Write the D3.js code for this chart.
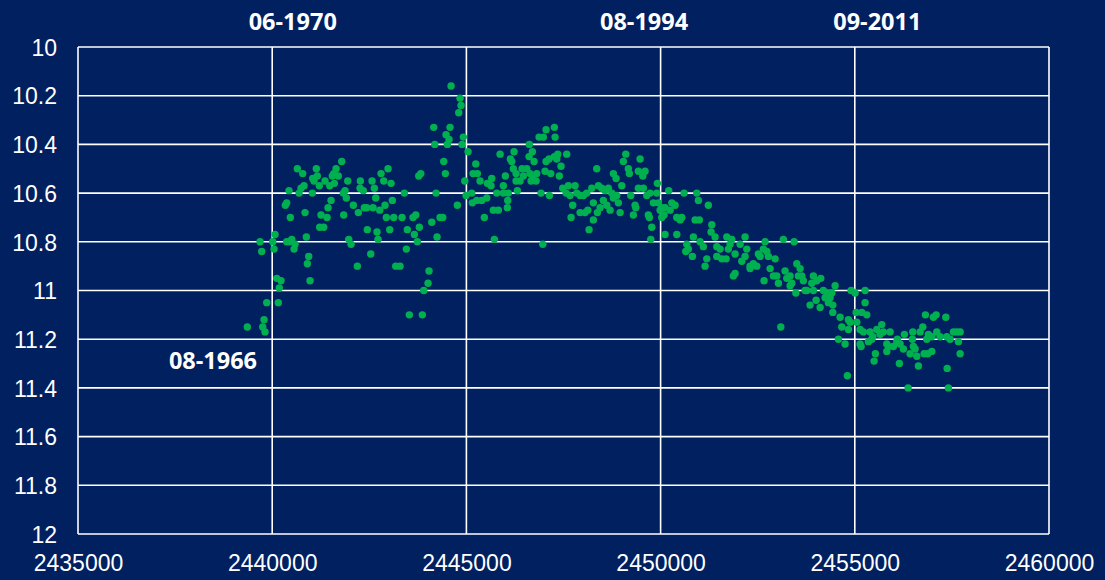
<!DOCTYPE html>
<html>
<head>
<meta charset="utf-8">
<script src="https://cdn.jsdelivr.net/npm/d3@7/dist/d3.min.js"></script>
<style>
  html, body { margin: 0; padding: 0; background: #002060; }
  svg { display: block; }
</style>
</head>
<body>
<svg id="chart" width="1105" height="580"></svg>
<script>
// ---- Data (Julian Date vs magnitude) ----
const jd = [
2439359,2439756,2439815,2439790,2439859,2440158,2440117,2440227,2440183,2439687,
2439730,2440014,2440047,2440073,2440374,2440503,2440588,2440562,2440441,2440940,
2440905,2440974,2440879,2440374,2440338,2440467,2440845,2440433,2440691,2440742,
2440820,2441033,2440647,2440786,2441136,2441644,2441790,2441043,2441162,2441077,
2441213,2441360,2441481,2441548,2441600,2441703,2441584,2441945,2441831,2441875,
2441909,2442270,2442262,2442346,2442571,2442630,2442802,2442983,2442872,2443060,
2443773,2443825,2443402,2444219,2441515,2441438,2441257,2441412,2441841,2442089,
2442218,2442372,2442434,2442596,2442666,2442769,2442905,2443093,2442939,2443129,
2443343,2443626,2443696,2444322,2444391,2444108,2441223,2441327,2442449,2442699,
2442725,2443026,2443479,2443660,2443788,2443737,2444244,2441971,2442030,2442537,
2443454,2442192,2443181,2443292,2444038,2444013,2443902,2443531,2443866,2444605,
2444837,2444862,2444803,2444159,2444579,2444476,2444553,2444509,2444185,2444921,
2444888,2445043,2444417,2444458,2445241,2445171,2445283,2444958,2444991,2445138,
2445153,2444767,2445352,2445267,2445395,2445524,2445462,2445720,2445539,2445652,
2445635,2445867,2446227,2446132,2446168,2446209,2446003,2445952,2445781,2445952,
2446080,2446065,2446054,2445694,2445822,2446279,2446279,2446382,2446312,2446433,
2446554,2446466,2446621,2446698,2446613,2446742,2446639,2446708,2446811,2446794,
2446665,2446871,2446982,2447051,2447265,2447283,2446922,2446966,2447051,2447128,
2447265,2447352,2447326,2447437,2447393,2447025,2447172,2447137,2447583,2447481,
2447625,2447798,2447566,2447669,2447738,2447695,2447842,2447927,2448012,2448099,
2448228,2447927,2448055,2448125,2448269,2448158,2448372,2448356,2448398,2448485,
2448570,2448655,2448743,2448784,2448871,2449000,2448913,2448957,2448699,2448526,
2448614,2448442,2448269,2448784,2448854,2449103,2449041,2449170,2449196,2449428,
2449472,2449600,2449541,2449232,2449343,2449299,2449361,2449428,2449557,2449644,
2449729,2449685,2449711,2449773,2449747,2449917,2449901,2449814,2449943,2450030,
2450089,2450030,2450115,2450210,2450288,2450373,2450244,2450417,2450502,2450545,
2450417,2450604,2450931,2450973,2450844,2450888,2450998,2450674,2450648,2450818,
2451017,2451101,2451189,2451145,2451230,2450115,2449987,2451318,2451300,2451403,
2451704,2451833,2451789,2452175,2452047,2451745,2450715,2451447,2451532,2451447,
2451575,2451686,2451918,2451874,2451918,2452090,2452175,2452219,2452304,2452389,
2452517,2452562,2452646,2452734,2452690,2452775,2452948,2452304,2452476,2452664,
2452819,2452904,2453033,2452991,2453161,2453437,2453205,2453334,2453249,2453378,
2453334,2453507,2453592,2453548,2453676,2453635,2453481,2453720,2453934,2453893,
2454021,2454124,2453849,2454004,2454107,2454191,2454279,2454364,2454434,2454434,
2454493,2454408,2454235,2453095,2454905,2455008,2455265,2455265,2455309,2455034,
2455051,2454879,2454622,2454665,2454835,2454578,2454750,2455137,2455221,2455394,
2455567,2455695,2455736,2455909,2455438,2455350,2455137,2455824,2456081,2454809,
2455162,2455531,2455497,2455865,2455824,2455994,2456097,2456167,2456251,2456277,
2456493,2456483,2456553,2456596,2456424,2456638,2456148,2456682,2456751,2456818,
2456895,2456854,2456983,2457024,2457094,2457111,2457197,2457343,2457369,2457539,
2457626,2457712,2457668,2456880,2456785,2456983,2457712,2457378,2457410,2456373,
2457454,2456509,2453764,2453934,2454320,2454835,2455180,2455463,2455652
];
const mag = [
11.15,11.15,11.17,11.12,11.05,11.05,10.95,10.96,10.99,10.80,
10.84,10.80,10.83,10.77,10.80,10.79,10.81,10.83,10.80,10.86,
10.89,10.96,10.78,10.64,10.65,10.70,10.68,10.59,10.60,10.58,
10.57,10.60,10.50,10.52,10.50,10.50,10.47,10.54,10.53,10.55,
10.57,10.55,10.57,10.53,10.56,10.53,10.52,10.55,10.60,10.59,
10.62,10.55,10.58,10.59,10.55,10.58,10.52,10.50,10.55,10.56,
10.53,10.52,10.60,10.60,10.63,10.66,10.69,10.70,10.69,10.65,
10.68,10.66,10.66,10.66,10.62,10.67,10.65,10.63,10.70,10.70,
10.70,10.70,10.69,10.70,10.70,10.72,10.74,10.74,10.75,10.76,
10.79,10.75,10.75,10.77,10.74,10.80,10.78,10.79,10.81,10.85,
10.83,10.90,10.90,10.90,10.92,10.97,11.00,11.10,11.10,10.16,
10.21,10.24,10.27,10.33,10.33,10.36,10.38,10.40,10.40,10.37,
10.40,10.43,10.47,10.52,10.48,10.52,10.52,10.55,10.61,10.60,
10.64,10.65,10.55,10.63,10.63,10.62,10.70,10.79,10.56,10.54,
10.57,10.44,10.43,10.46,10.47,10.50,10.53,10.57,10.60,10.60,
10.60,10.63,10.66,10.67,10.67,10.52,10.55,10.55,10.59,10.50,
10.50,10.53,10.40,10.43,10.45,10.47,10.52,10.54,10.52,10.55,
10.55,10.37,10.37,10.34,10.33,10.37,10.60,10.81,10.47,10.46,
10.45,10.44,10.46,10.49,10.53,10.51,10.52,10.61,10.44,10.58,
10.57,10.57,10.60,10.61,10.65,10.70,10.60,10.61,10.61,10.60,
10.58,10.68,10.68,10.67,10.71,10.75,10.68,10.50,10.57,10.58,
10.59,10.58,10.60,10.62,10.61,10.57,10.64,10.68,10.67,10.63,
10.65,10.66,10.64,10.52,10.54,10.44,10.47,10.50,10.52,10.51,
10.46,10.51,10.53,10.61,10.65,10.69,10.66,10.58,10.58,10.61,
10.60,10.69,10.70,10.74,10.79,10.56,10.60,10.64,10.64,10.66,
10.69,10.70,10.77,10.59,10.64,10.65,10.67,10.70,10.71,10.70,
10.77,10.60,10.60,10.63,10.78,10.71,10.71,10.81,10.84,10.86,
10.80,10.82,10.87,10.90,10.65,10.66,10.67,10.73,10.76,10.78,
10.78,10.79,10.81,10.78,10.81,10.83,10.83,10.82,10.83,10.86,
10.87,10.87,10.85,10.94,10.93,10.88,10.86,10.83,10.90,10.89,
10.85,10.86,10.83,10.84,10.80,10.86,10.87,10.91,10.90,10.96,
10.91,10.94,10.97,10.94,10.79,10.80,10.92,10.94,10.95,10.97,
10.98,10.89,10.91,10.94,10.96,10.94,11.01,11.00,10.94,10.97,
10.96,10.95,11.06,11.04,11.07,11.00,11.01,11.03,11.06,11.09,
10.98,11.01,11.03,11.15,11.00,11.01,11.00,11.05,11.10,11.09,
11.13,11.13,11.11,11.15,11.16,11.20,11.22,11.16,11.17,11.17,
11.16,11.14,11.17,11.17,11.20,11.21,11.22,11.22,11.21,11.35,
11.23,11.26,11.29,11.23,11.25,11.23,11.20,11.22,11.24,11.18,
11.17,11.20,11.24,11.27,11.26,11.31,11.30,11.17,11.15,11.10,
11.18,11.20,11.19,11.11,11.10,11.17,11.19,11.11,11.19,11.17,
11.17,11.17,11.21,11.26,11.26,11.25,11.26,11.32,11.40,11.40,
11.20,11.23,11.00,11.00,11.05,11.12,11.09,11.19,11.18
];
const xTicks = [2435000, 2440000, 2445000, 2450000, 2455000, 2460000];
const yTicks = [10, 10.2, 10.4, 10.6, 10.8, 11, 11.2, 11.4, 11.6, 11.8, 12];
const annoText = ["06-1970", "08-1994", "09-2011", "08-1966"];
const annoJD   = [2440530, 2449575, 2455580, 2438475];  // label centre positions (JD)
const annoMag  = [9.93, 9.93, 9.93, 11.322];             // label baselines (mag)

// ---- Layout ----
const W = 1105, H = 580;
const margin = { left: 78, top: 47, right: 56, bottom: 46 };
const svg = d3.select("#chart");
const bg = "#002060";
const grid = "#ffffff";
const dotColor = "#00B050";

svg.append("rect").attr("width", W).attr("height", H).attr("fill", bg);

const x = d3.scaleLinear().domain([2435000, 2460000]).range([margin.left, W - margin.right]);
const y = d3.scaleLinear().domain([10, 12]).range([margin.top, H - margin.bottom]);

const g = svg.append("g");

// grid lines
g.selectAll("line.h").data(yTicks).enter().append("line")
  .attr("x1", x(2435000)).attr("x2", x(2460000))
  .attr("y1", d => y(d)).attr("y2", d => y(d))
  .attr("stroke", grid).attr("stroke-width", 1.6);
g.selectAll("line.v").data(xTicks).enter().append("line")
  .attr("y1", y(10)).attr("y2", y(12))
  .attr("x1", d => x(d)).attr("x2", d => x(d))
  .attr("stroke", grid).attr("stroke-width", 1.6);

// axes labels via d3 axes
const fmtY = d => (d === 10 || d === 11 || d === 12) ? String(d) : d3.format(".1f")(d);
const yAxis = d3.axisLeft(y).tickValues(yTicks).tickFormat(fmtY).tickSize(0).tickPadding(21);
const xAxis = d3.axisBottom(x).tickValues(xTicks).tickFormat(d3.format("d")).tickSize(0).tickPadding(20);

const ya = svg.append("g").attr("transform", `translate(${margin.left},0)`).call(yAxis);
const xa = svg.append("g").attr("transform", `translate(0,${H - margin.bottom})`).call(xAxis);
[ya, xa].forEach(a => {
  a.select(".domain").remove();
  a.selectAll("text")
    .attr("fill", "#ffffff")
    .style("font-family", "'Liberation Sans', Arial, sans-serif")
    .style("font-size", "23px");
});
ya.selectAll("text").attr("dy", "0.36em");
xa.selectAll("text").attr("dy", "0.72em");

// points
const pts = jd.map((d, i) => [d, mag[i]]);
svg.append("g").selectAll("circle").data(pts).enter().append("circle")
  .attr("cx", d => x(d[0])).attr("cy", d => y(d[1]))
  .attr("r", 3.7).attr("fill", dotColor);

// annotations
svg.append("g").selectAll("text").data(annoText).enter().append("text")
  .attr("x", (d, i) => x(annoJD[i]))
  .attr("y", (d, i) => y(annoMag[i]))
  .attr("text-anchor", "middle")
  .attr("fill", "#ffffff")
  .style("font-family", "'Open Sans', 'Liberation Sans', sans-serif")
  .style("font-weight", "700")
  .style("font-size", "23.5px")
  .text(d => d);
</script>
</body>
</html>
